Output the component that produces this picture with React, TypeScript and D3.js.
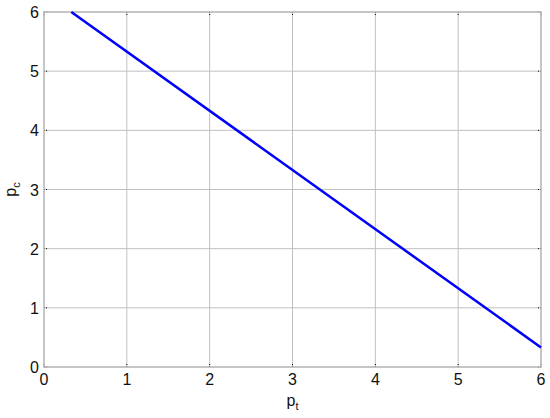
import React from "react";
import * as d3 from "d3";

const xTicks = [0, 1, 2, 3, 4, 5, 6];
const yTicks = [0, 1, 2, 3, 4, 5, 6];
const ptValues = [0.33, 6];
const pcValues = [6, 0.33];

export default function App() {
  const W = 550, H = 418;
  const m = { left: 44, right: 9, top: 12, bottom: 51 };
  const x = d3.scaleLinear().domain([0, 6]).range([m.left, W - m.right]);
  const y = d3.scaleLinear().domain([0, 6]).range([H - m.bottom, m.top]);
  const pts: [number, number][] = ptValues.map((v, i) => [v, pcValues[i]]);
  const line = d3.line<[number, number]>().x(d => x(d[0])).y(d => y(d[1]));
  const font = "'Liberation Sans', Arial, sans-serif";
  const grid = "#c0c0c0";
  return (
    <svg width={W} height={H} style={{ position: "absolute", left: 0, top: 0 }}>
      <rect width={W} height={H} fill="#fff" />
      {xTicks.map(t => (
        <line key={"gx" + t} x1={x(t)} x2={x(t)} y1={y(0)} y2={y(6)} stroke={grid} strokeWidth={1} />
      ))}
      {yTicks.map(t => (
        <line key={"gy" + t} x1={x(0)} x2={x(6)} y1={y(t)} y2={y(t)} stroke={grid} strokeWidth={1} />
      ))}
      {xTicks.map(t => (
        <g key={"tx" + t}>
          <line x1={x(t)} x2={x(t)} y1={y(0)} y2={y(0) - 3} stroke="#000" strokeWidth={1} strokeDasharray="1,1" />
          <line x1={x(t)} x2={x(t)} y1={y(6)} y2={y(6) + 3} stroke="#000" strokeWidth={1} strokeDasharray="1,1" />
          <text x={x(t)} y={y(0) + 18} textAnchor="middle" fontFamily={font} fontSize={16} fill="#111">{t}</text>
        </g>
      ))}
      {yTicks.map(t => (
        <g key={"ty" + t}>
          <line x1={x(0)} x2={x(0) + 3} y1={y(t)} y2={y(t)} stroke="#000" strokeWidth={1} strokeDasharray="1,1" />
          <line x1={x(6)} x2={x(6) - 3} y1={y(t)} y2={y(t)} stroke="#000" strokeWidth={1} strokeDasharray="1,1" />
          <text x={x(0) - 5} y={y(t) + 6} textAnchor="end" fontFamily={font} fontSize={16} fill="#111">{t}</text>
        </g>
      ))}
      <rect x={x(0)} y={y(6)} width={x(6) - x(0)} height={y(0) - y(6)} fill="none" stroke="#bdbdbd" strokeWidth={1.5} />
      <path d={line(pts) || ""} fill="none" stroke="#0000ff" strokeWidth={2.5} />
      <text x={(x(0) + x(6)) / 2} y={H - 12} textAnchor="middle" fontFamily={font} fontSize={16} fill="#111">
        p<tspan fontSize={11} dy={4}>t</tspan>
      </text>
      <text transform={`translate(16, ${(y(0) + y(6)) / 2}) rotate(-90)`} textAnchor="middle" fontFamily={font} fontSize={16} fill="#111">
        p<tspan fontSize={11} dy={4}>c</tspan>
      </text>
    </svg>
  );
}
